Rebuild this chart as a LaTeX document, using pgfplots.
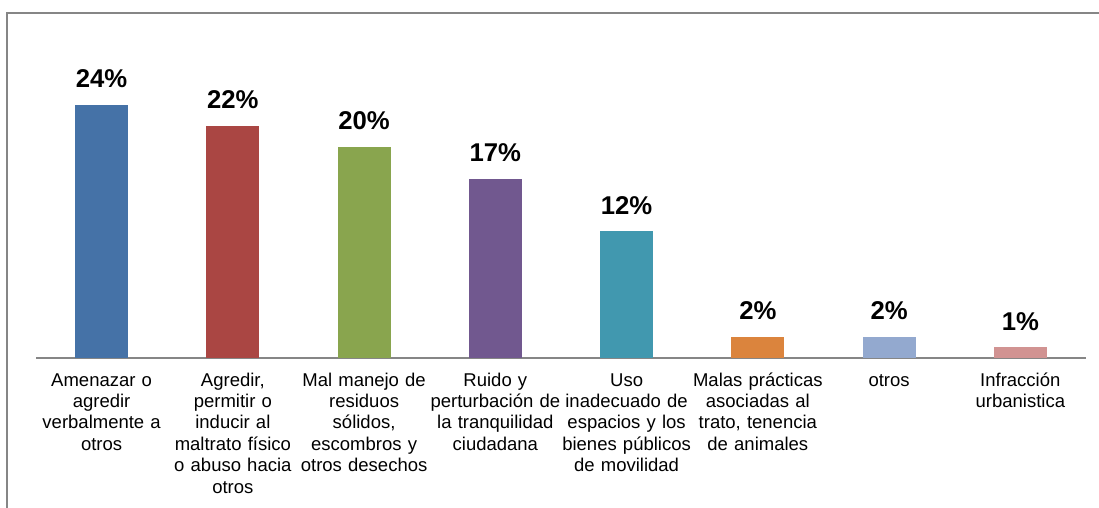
\documentclass[border=0pt]{standalone}
\usepackage{fontspec}
\setmainfont{Liberation Sans}
\usepackage{pgfplots}
\pgfplotsset{compat=1.18}
\definecolor{c1}{HTML}{4572A7}
\definecolor{c2}{HTML}{AA4643}
\definecolor{c3}{HTML}{89A54E}
\definecolor{c4}{HTML}{71588F}
\definecolor{c5}{HTML}{4198AF}
\definecolor{c6}{HTML}{DB843D}
\definecolor{c7}{HTML}{93A9CF}
\definecolor{c8}{HTML}{D19392}
\definecolor{framegray}{HTML}{868686}
\begin{document}
\begin{tikzpicture}
\useasboundingbox (0pt,0pt) rectangle (1099pt,-508pt);
\draw[framegray, line width=1.7pt] (6.8pt,-510pt) -- (6.8pt,-13.2pt) -- (1100pt,-13.2pt);
\begin{axis}[
  at={(36pt,-357.7pt)}, anchor=south west,
  scale only axis, width=1050pt, height=294.8pt,
  xmin=-0.5, xmax=7.5, ymin=0, ymax=28,
  clip=false,
  /pgf/number format/assume math mode=true,
  axis x line*=bottom, axis y line=none,
  axis line style={framegray, line width=1.7pt},
  xtick={0,1,2,3,4,5,6,7},
  major tick length=0pt,
  xticklabels={
    {\strut Amenazar o\\agredir\\verbalmente a\\otros},
    {\strut Agredir,\\permitir o\\inducir al\\maltrato físico\\o abuso hacia\\otros},
    {\strut Mal manejo de\\residuos\\sólidos,\\escombros y\\otros desechos},
    {\strut Ruido y\\perturbación de\\la tranquilidad\\ciudadana},
    {\strut Uso\\inadecuado de\\espacios y los\\bienes públicos\\de movilidad},
    {\strut Malas prácticas\\asociadas al\\trato, tenencia\\de animales},
    {\strut otros},
    {\strut Infracción\\urbanistica}},
  xticklabel style={text width=140pt, align=center, anchor=north, inner sep=0pt, yshift=-13.3pt,
    font=\fontsize{18.5}{21.4}\selectfont},
  ybar, bar width=53pt,
  nodes near coords={\pgfmathprintnumber{\pgfplotspointmeta}\%},
  nodes near coords style={anchor=south, inner sep=0pt, yshift=16.7pt,
    font=\fontsize{25.7}{30}\selectfont\bfseries, text=black},
]
\addplot[bar shift=0pt, draw=none, fill=c1] coordinates {(0,24)};
\addplot[bar shift=0pt, draw=none, fill=c2] coordinates {(1,22)};
\addplot[bar shift=0pt, draw=none, fill=c3] coordinates {(2,20)};
\addplot[bar shift=0pt, draw=none, fill=c4] coordinates {(3,17)};
\addplot[bar shift=0pt, draw=none, fill=c5] coordinates {(4,12)};
\addplot[bar shift=0pt, draw=none, fill=c6] coordinates {(5,2)};
\addplot[bar shift=0pt, draw=none, fill=c7] coordinates {(6,2)};
\addplot[bar shift=0pt, draw=none, fill=c8] coordinates {(7,1)};
\end{axis}
\end{tikzpicture}
\end{document}
